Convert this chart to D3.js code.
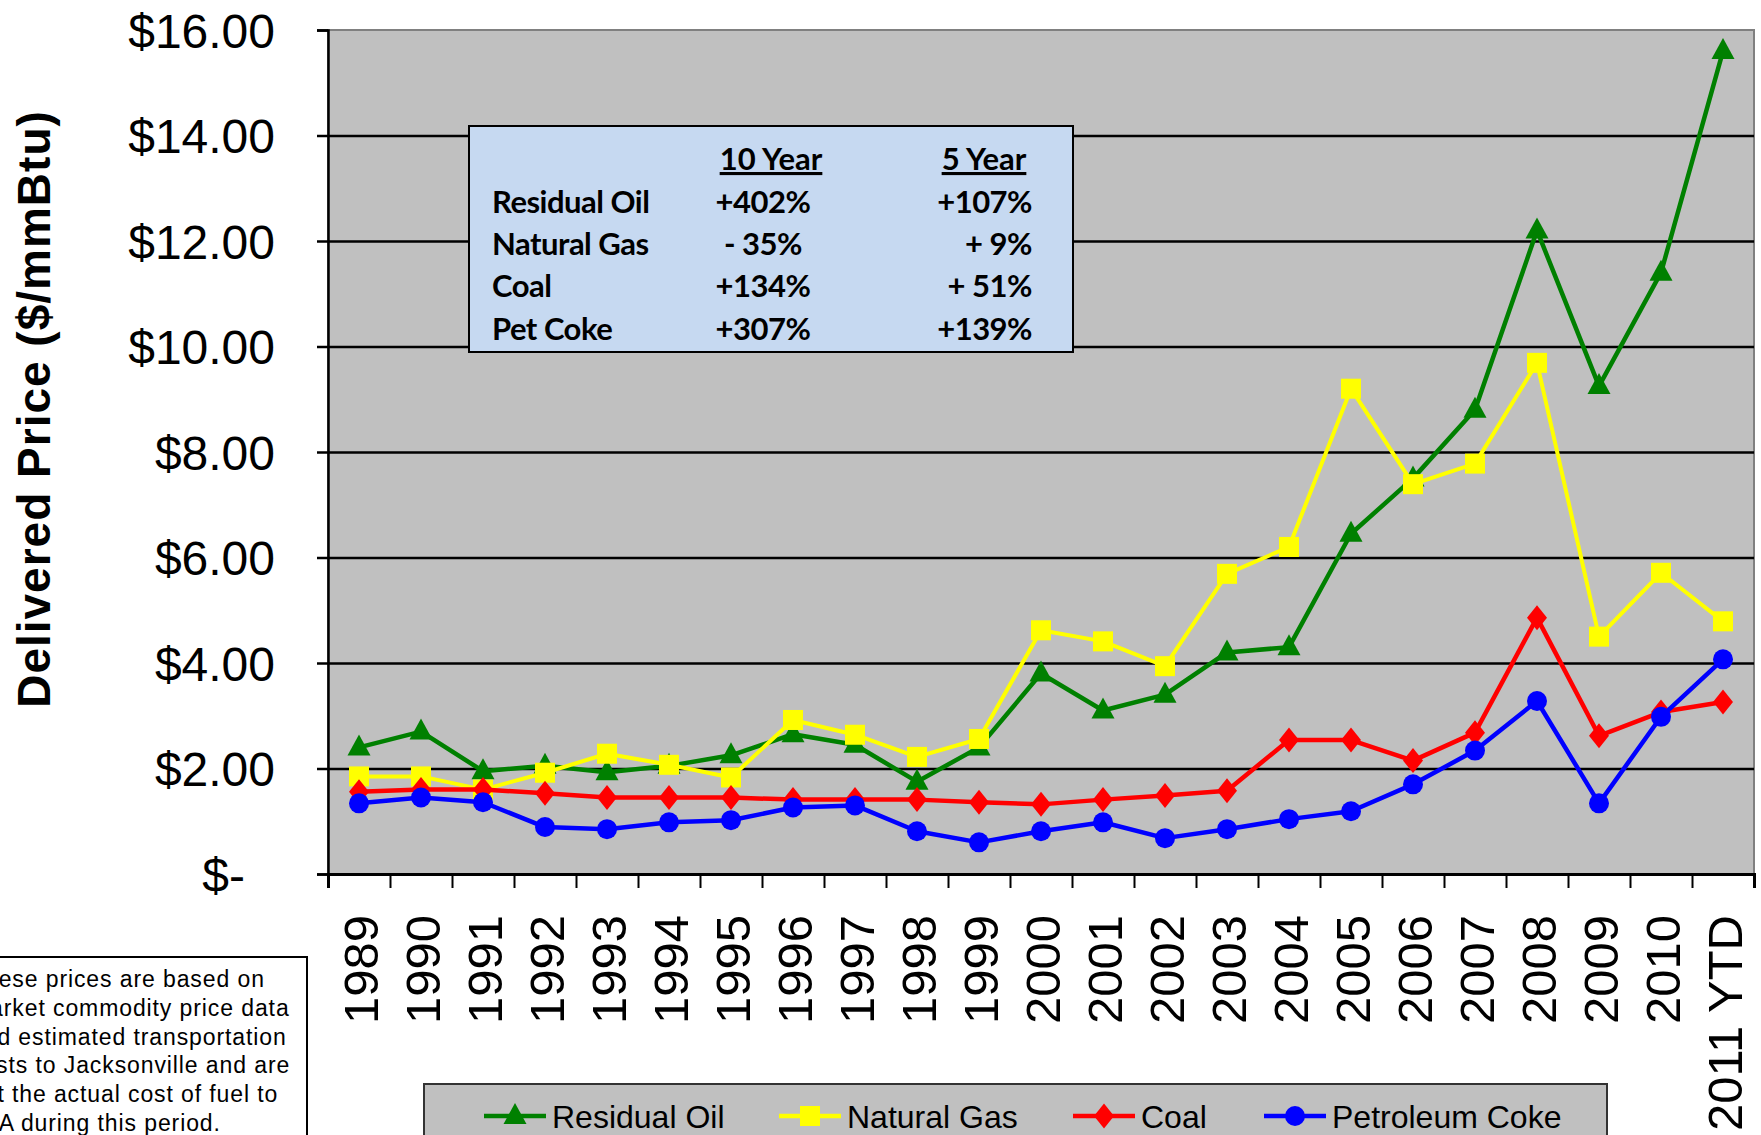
<!DOCTYPE html>
<html>
<head>
<meta charset="utf-8">
<script src="https://cdn.jsdelivr.net/npm/d3@7"></script>
<style>
  body { margin: 0; background: #fff; }
  svg { display: block; }
</style>
</head>
<body>
<div id="chart"></div>
<script>
// Data ($/mmBtu)
const years = ["1989", "1990", "1991", "1992", "1993", "1994", "1995", "1996", "1997", "1998",
  "1999", "2000", "2001", "2002", "2003", "2004", "2005", "2006", "2007", "2008", "2009", "2010", "2011 YTD"];

const residualOil = [2.40, 2.70, 1.95, 2.05, 1.93, 2.05, 2.25, 2.65, 2.45, 1.75, 2.40, 3.80, 3.10,
  3.40, 4.20, 4.30, 6.45, 7.50, 8.80, 12.20, 9.25, 11.40, 15.60];
const naturalGas = [1.85, 1.85, 1.60, 1.92, 2.28, 2.07, 1.83, 2.92, 2.64, 2.22, 2.56, 4.62, 4.41,
  3.94, 5.69, 6.20, 9.20, 7.39, 7.78, 9.69, 4.50, 5.71, 4.79];
const coal = [1.56, 1.60, 1.60, 1.53, 1.45, 1.45, 1.45, 1.41, 1.41, 1.41, 1.36, 1.32, 1.41,
  1.49, 1.58, 2.54, 2.54, 2.15, 2.68, 4.86, 2.62, 3.07, 3.26];
const petCoke = [1.34, 1.45, 1.36, 0.89, 0.85, 0.98, 1.02, 1.26, 1.30, 0.81, 0.60, 0.81, 0.98,
  0.68, 0.85, 1.04, 1.19, 1.70, 2.34, 3.28, 1.34, 2.98, 4.07];

const seriesNames = ["Residual Oil", "Natural Gas", "Coal", "Petroleum Coke"];
const seriesColors = ["#008000", "#FFFF00", "#FF0000", "#0000FF"];
const seriesShapes = ["triangle", "square", "diamond", "circle"];

const yTicks = [0, 2, 4, 6, 8, 10, 12, 14, 16];

// Summary table
const tableHeaders = ["10 Year", "5 Year"];
const tableRows = ["Residual Oil", "Natural Gas", "Coal", "Pet Coke"];
const tenYear = ["+402%", "- 35%", "+134%", "+307%"];
const fiveYear = ["+107%", "+ 9%", "+ 51%", "+139%"];

const noteLines = [
  "These prices are based on",
  "market commodity price data",
  "and estimated transportation",
  "costs to Jacksonville and are",
  "not the actual cost of fuel to",
  "JEA during this period."
];

const width = 1761, height = 1135;
const plot = { left: 328, right: 1754, top: 30, bottom: 874 };

const svg = d3.select("#chart").append("svg")
  .attr("width", width)
  .attr("height", height)
  .attr("viewBox", [0, 0, width, height]);

const x = d3.scaleBand().domain(years).range([plot.left, plot.right]);
const y = d3.scaleLinear().domain([0, 16]).range([plot.bottom, plot.top]);
const cx = d => x(d) + x.bandwidth() / 2;

// Plot background
svg.append("rect")
  .attr("x", plot.left).attr("y", plot.top)
  .attr("width", plot.right - plot.left).attr("height", plot.bottom - plot.top)
  .attr("fill", "#C0C0C0")
  .attr("stroke", "#808080").attr("stroke-width", 2);

// Gridlines
svg.append("g")
  .attr("transform", `translate(${plot.left},0)`)
  .call(d3.axisLeft(y).tickValues(yTicks.slice(1, -1)).tickSize(-(plot.right - plot.left)).tickFormat(""))
  .call(g => g.select(".domain").remove())
  .call(g => g.selectAll("line").attr("stroke", "#000").attr("stroke-width", 2.5));

// Y axis
svg.append("g")
  .attr("transform", `translate(${plot.left},0)`)
  .call(d3.axisLeft(y).tickValues(yTicks).tickSize(11).tickPadding(42)
    .tickFormat(d => d === 0 ? "$-" : "$" + d3.format(".2f")(d)))
  .call(g => g.select(".domain").attr("stroke", "#000").attr("stroke-width", 2.5))
  .call(g => g.selectAll("line").attr("stroke", "#000").attr("stroke-width", 2.5))
  .call(g => g.selectAll("text")
    .attr("font-family", "'Liberation Sans', Arial, sans-serif")
    .attr("font-size", 48)
    .attr("fill", "#000")
    .attr("dy", "0.36em")
    .attr("dx", d => d === 0 ? -30 : 0));

// X axis: ticks on category boundaries, labels at centres
const xBound = d3.scaleLinear().domain([0, years.length]).range([plot.left, plot.right]);
svg.append("g")
  .attr("transform", `translate(0,${plot.bottom})`)
  .call(d3.axisBottom(xBound).tickValues(d3.range(0, years.length + 1)).tickSize(14).tickFormat(""))
  .call(g => g.select(".domain").attr("stroke", "#000").attr("stroke-width", 3))
  .call(g => g.selectAll("line").attr("stroke", "#000").attr("stroke-width", 2));

svg.append("g")
  .attr("transform", `translate(0,${plot.bottom})`)
  .call(d3.axisBottom(x).tickSize(0).tickPadding(0))
  .call(g => g.select(".domain").remove())
  .call(g => g.selectAll("text")
    .attr("font-family", "'Liberation Sans', Arial, sans-serif")
    .attr("font-size", 49)
    .attr("fill", "#000")
    .attr("text-anchor", "end")
    .attr("dominant-baseline", "central")
    .attr("dy", null)
    .attr("y", 0)
    .attr("transform", "translate(2,41) rotate(-90)"));

// Y axis title
svg.append("text")
  .attr("transform", "translate(34,409) rotate(-90)")
  .attr("text-anchor", "middle")
  .attr("dominant-baseline", "central")
  .attr("font-family", "'Liberation Sans', Arial, sans-serif")
  .attr("font-weight", "bold")
  .attr("font-size", 46)
  .attr("letter-spacing", 1)
  .text("Delivered Price ($/mmBtu)");

// Summary box
const box = svg.append("g");
box.append("rect")
  .attr("x", 469).attr("y", 126).attr("width", 604).attr("height", 226)
  .attr("fill", "#C6D9F1").attr("stroke", "#000").attr("stroke-width", 2);
const tFont = "Lato, 'Open Sans', sans-serif";
const tSize = 31;
[771, 984].forEach((tx, i) => {
  box.append("text")
    .attr("x", tx).attr("y", 170)
    .attr("text-anchor", "middle")
    .attr("font-family", tFont).attr("font-weight", "bold").attr("font-size", tSize)
    .attr("text-decoration", "underline")
    .text(tableHeaders[i]);
});
tableRows.forEach((r, i) => {
  const by = 213 + i * 42.2;
  box.append("text").attr("x", 492).attr("y", by)
    .attr("font-family", tFont).attr("font-weight", "bold").attr("font-size", tSize)
    .attr("letter-spacing", -0.5)
    .text(r);
  box.append("text").attr("x", 763).attr("y", by).attr("text-anchor", "middle")
    .attr("font-family", tFont).attr("font-weight", "bold").attr("font-size", tSize)
    .attr("letter-spacing", -0.5)
    .attr("xml:space", "preserve")
    .text(tenYear[i]);
  box.append("text").attr("x", 1032).attr("y", by).attr("text-anchor", "end")
    .attr("font-family", tFont).attr("font-weight", "bold").attr("font-size", tSize)
    .attr("letter-spacing", -0.5)
    .attr("xml:space", "preserve")
    .text(fiveYear[i]);
});

// Marker shapes
function marker(sel, shape, color) {
  if (shape === "circle") {
    sel.append("circle").attr("r", 10).attr("fill", color);
  } else if (shape === "square") {
    sel.append("rect").attr("x", -10).attr("y", -10).attr("width", 20).attr("height", 20).attr("fill", color);
  } else if (shape === "triangle") {
    sel.append("path").attr("d", "M0,-13L11.5,8L-11.5,8Z").attr("fill", color);
  } else {
    sel.append("path").attr("d", "M0,-12.5L10,0L0,12.5L-10,0Z").attr("fill", color);
  }
}

// Series
const allSeries = [residualOil, naturalGas, coal, petCoke];
const line = d3.line().x((d, i) => cx(years[i])).y(d => y(d));

allSeries.forEach((vals, s) => {
  const g = svg.append("g");
  g.append("path")
    .attr("d", line(vals))
    .attr("fill", "none")
    .attr("stroke", seriesColors[s])
    .attr("stroke-width", s === 1 ? 4 : 4.5)
    .attr("stroke-linejoin", "round");
  vals.forEach((v, i) => {
    const m = g.append("g").attr("transform", `translate(${cx(years[i])},${y(v)})`);
    marker(m, seriesShapes[s], seriesColors[s]);
  });
});

// Footnote box (partly off the left edge, as in the original slide)
svg.append("rect")
  .attr("x", -20).attr("y", 957).attr("width", 327).attr("height", 200)
  .attr("fill", "#fff").attr("stroke", "#000").attr("stroke-width", 2);
svg.append("g").selectAll("text")
  .data(noteLines)
  .join("text")
  .attr("x", -30)
  .attr("y", (d, i) => 987 + i * 28.8)
  .attr("font-family", "'Liberation Sans', Arial, sans-serif")
  .attr("font-size", 23)
  .attr("letter-spacing", 0.9)
  .text(d => d);

// Legend
const legend = svg.append("g");
legend.append("rect")
  .attr("x", 424).attr("y", 1084).attr("width", 1183).attr("height", 70)
  .attr("fill", "#C0C0C0").attr("stroke", "#333").attr("stroke-width", 2);
const legendX = [484, 779, 1073, 1264];
seriesNames.forEach((name, s) => {
  const item = legend.append("g").attr("transform", `translate(${legendX[s]},1116)`);
  item.append("line").attr("x1", 0).attr("x2", 62)
    .attr("stroke", seriesColors[s]).attr("stroke-width", 4.5);
  marker(item.append("g").attr("transform", "translate(31,0)"), seriesShapes[s], seriesColors[s]);
  item.append("text")
    .attr("x", 68).attr("y", 0).attr("dy", "0.36em")
    .attr("font-family", "'Liberation Sans', Arial, sans-serif")
    .attr("font-size", 32)
    .text(name);
});
</script>
</body>
</html>
